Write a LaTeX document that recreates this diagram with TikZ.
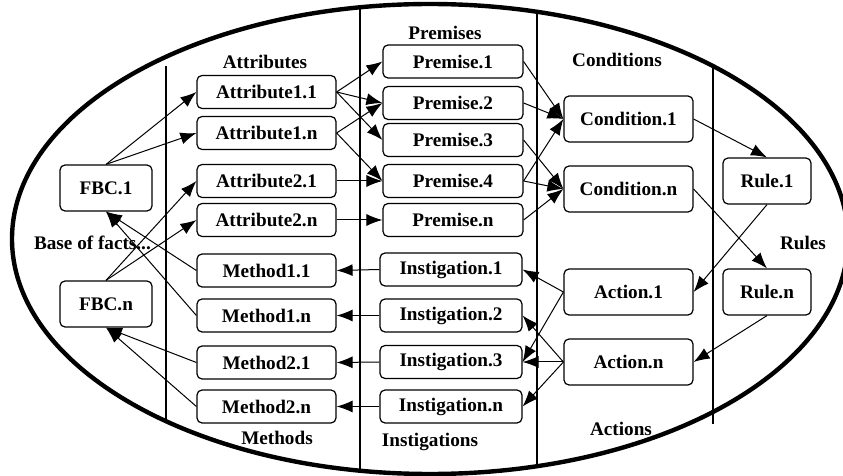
\documentclass[tikz,border=0pt]{standalone}
\usepackage{fontspec}
\setmainfont{Liberation Serif}
\usetikzlibrary{arrows.meta,positioning}

\begin{document}
\begin{tikzpicture}[x=0.5pt,y=-0.5pt,
  box/.style={draw,rounded corners=2.5pt,line width=0.6pt,inner sep=0pt,
    minimum height=16.5pt,font=\bfseries\fontsize{9.6}{11}\selectfont},
  bigbox/.style={box,minimum height=23pt},
  lbl/.style={font=\bfseries\fontsize{9.6}{11}\selectfont},
  link/.style={line width=0.5pt,-{Latex[length=8pt,width=6pt]}}]
\useasboundingbox (0,0) rectangle (843,476);

% Outer base of facts
\draw[line width=2.2pt] (430,239) ellipse (209pt and 117.5pt);

% Column separators
\draw[line width=0.6pt] (166,66) -- (166,423);
\draw[line width=0.6pt] (360,7) -- (360,473);
\draw[line width=0.6pt] (537,12) -- (537,467);
\draw[line width=0.6pt] (713,68) -- (713,424);

% Column titles
\node[lbl] (attlbl) at (265,62) {Attributes};
\node[lbl] (premlbl) at (445,33) {Premises};
\node[lbl] (condlbl) at (617,60) {Conditions};
\node[lbl] (rulelbl) at (803,243) {Rules};
\node[lbl] (actlbl) at (621,429) {Actions};
\node[lbl] (instlbl) at (430,442) {Instigations};
\node[lbl] (methlbl) at (277,438) {Methods};
\node[lbl,anchor=west] (baselbl) at (27,243) {Base of facts...};

% Facts
\node[bigbox,minimum width=46pt] (fbc1) at (106,188) {FBC.1};
\node[bigbox,minimum width=46pt] (fbcn) at (106,304) {FBC.n};

% Attributes and methods
\node[box,minimum width=69.5pt] (att11) at (266.5,92) {Attribute1.1};
\node[box,minimum width=69.5pt] (att1n) at (266.5,133) {Attribute1.n};
\node[box,minimum width=69.5pt] (att21) at (266.5,181) {Attribute2.1};
\node[box,minimum width=69.5pt] (att2n) at (266.5,220) {Attribute2.n};
\node[box,minimum width=69.5pt] (meth11) at (266.5,270.5) {Method1.1};
\node[box,minimum width=69.5pt] (meth1n) at (266.5,315.5) {Method1.n};
\node[box,minimum width=69.5pt] (meth21) at (266.5,362.5) {Method2.1};
\node[box,minimum width=69.5pt] (meth2n) at (266.5,406.5) {Method2.n};

% Premises and instigations
\node[box,minimum width=70pt] (prem1) at (453,61.5) {Premise.1};
\node[box,minimum width=70pt] (prem2) at (453,103) {Premise.2};
\node[box,minimum width=70pt] (prem3) at (453,140) {Premise.3};
\node[box,minimum width=70pt] (prem4) at (453,181) {Premise.4};
\node[box,minimum width=70pt] (premn) at (453,220) {Premise.n};
\node[box,minimum width=71pt] (inst1) at (451,269.5) {Instigation.1};
\node[box,minimum width=71pt] (inst2) at (451,315.5) {Instigation.2};
\node[box,minimum width=71pt] (inst3) at (451,362) {Instigation.3};
\node[box,minimum width=71pt] (instn) at (451,406.5) {Instigation.n};

% Conditions and actions
\node[bigbox,minimum width=64.5pt] (cond1) at (628.5,119) {Condition.1};
\node[bigbox,minimum width=64.5pt] (condn) at (628.5,189) {Condition.n};
\node[bigbox,minimum width=64.5pt] (act1) at (628.5,292) {Action.1};
\node[bigbox,minimum width=64.5pt] (actn) at (628.5,362) {Action.n};

% Rules
\node[bigbox,minimum width=44pt] (rule1) at (767,181) {Rule.1};
\node[bigbox,minimum width=44pt] (rulen) at (767,292) {Rule.n};

% Facts -> attributes, methods -> facts
\draw[link] (fbc1.north) -- (att11.west);
\draw[link] (fbc1.north) -- (att1n.west);
\draw[link] (fbcn.north) -- (att21.west);
\draw[link] (fbcn.north) -- (att2n.west);
\draw[link] (meth11.west) -- (fbc1.south);
\draw[link] (meth1n.west) -- (fbc1.south);
\draw[link] (meth21.west) -- (fbcn.south);
\draw[link] (meth2n.west) -- (fbcn.south);

% Attributes -> premises
\draw[link] (att11.east) -- (prem1.west);
\draw[link] (att11.east) -- (prem2.west);
\draw[link] (att11.east) -- (prem3.west);
\draw[link] (att1n.east) -- (prem2.west);
\draw[link] (att1n.east) -- (prem4.west);
\draw[link] (att21.east) -- (prem4.west);
\draw[link] (att2n.east) -- (premn.west);

% Premises -> conditions
\draw[link] (prem1.east) -- (cond1.west);
\draw[link] (prem2.east) -- (cond1.west);
\draw[link] (prem4.east) -- (cond1.west);
\draw[link] (prem3.east) -- (condn.west);
\draw[link] (prem4.east) -- (condn.west);
\draw[link] (premn.east) -- (condn.west);

% Conditions -> rules -> actions
\draw[link] (cond1.east) -- (rule1.north);
\draw[link] (condn.east) -- (rulen.north);
\draw[link] (rule1.south) -- (act1.east);
\draw[link] (rulen.south) -- (actn.east);

% Actions -> instigations -> methods
\draw[link] (act1.west) -- (inst1.east);
\draw[link] (act1.west) -- (inst3.east);
\draw[link] (actn.west) -- (inst2.east);
\draw[link] (actn.west) -- (inst3.east);
\draw[link] (actn.west) -- (instn.east);
\draw[link] (inst1.west) -- (meth11.east);
\draw[link] (inst2.west) -- (meth1n.east);
\draw[link] (inst3.west) -- (meth21.east);
\draw[link] (instn.west) -- (meth2n.east);
\end{tikzpicture}
\end{document}
